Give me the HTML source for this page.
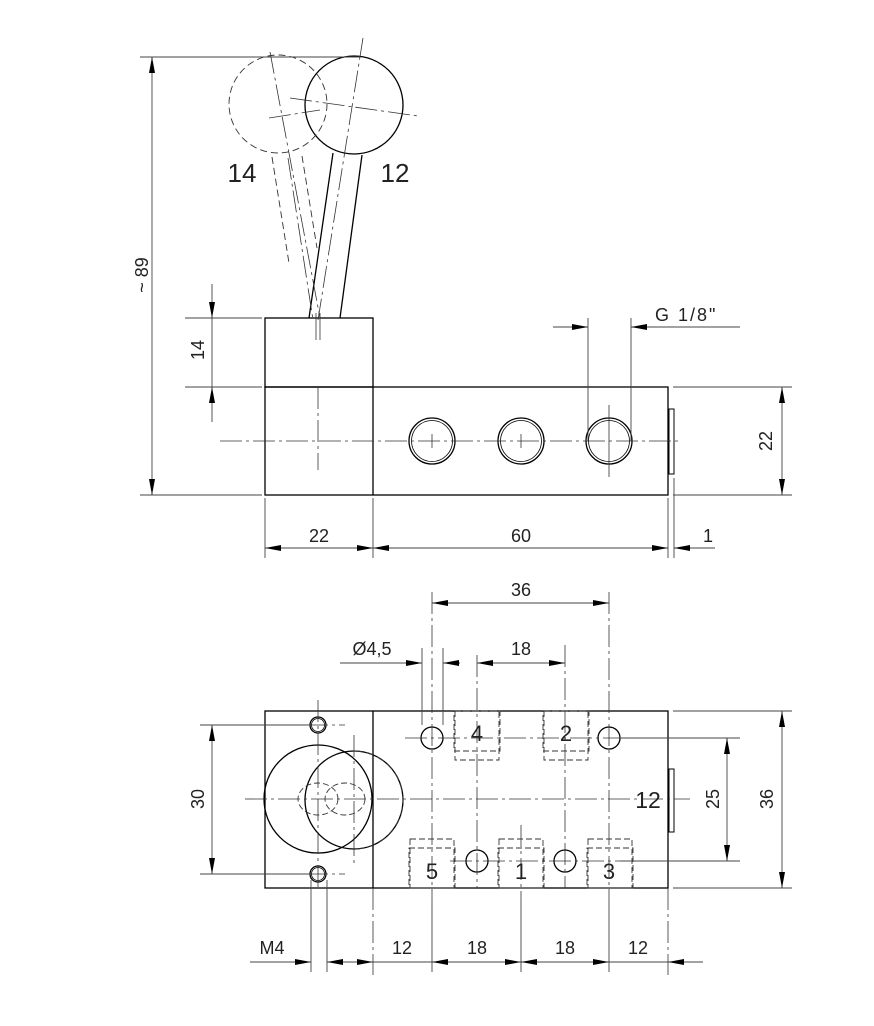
<!DOCTYPE html>
<html><head><meta charset="utf-8"><style>
html,body{margin:0;padding:0;background:#fff;}
svg{display:block;}
text{font-family:"Liberation Sans",sans-serif;fill:#222;}
</style></head><body>
<svg width="874" height="1026" viewBox="0 0 874 1026" xmlns="http://www.w3.org/2000/svg">
<defs>
<marker id="a" viewBox="0 0 16 6" refX="16" refY="3" markerWidth="16" markerHeight="6" markerUnits="userSpaceOnUse" orient="auto"><path d="M0,0 L16,3 L0,6z" fill="#000"/></marker>
<marker id="b" viewBox="0 0 16 6" refX="0" refY="3" markerWidth="16" markerHeight="6" markerUnits="userSpaceOnUse" orient="auto"><path d="M16,0 L0,3 L16,6z" fill="#000"/></marker>
</defs>
<g fill="none" stroke="#000" stroke-width="1.3">
<rect x="265" y="318" width="108" height="69"/>
<rect x="265" y="387" width="403" height="108"/>
<line x1="373" y1="387" x2="373" y2="495"/>
<rect x="669" y="409" width="5" height="65" stroke-width="1"/>
<circle cx="432" cy="441" r="23"/><circle cx="432" cy="441" r="20.5" stroke-width="0.8"/>
<circle cx="521" cy="441" r="23"/><circle cx="521" cy="441" r="20.5" stroke-width="0.8"/>
<circle cx="609" cy="441" r="23"/><circle cx="609" cy="441" r="20.5" stroke-width="0.8"/>
<circle cx="354" cy="105" r="49"/>
<line x1="333" y1="153" x2="309" y2="318"/>
<line x1="362" y1="155" x2="340" y2="318"/>
</g>
<g fill="none" stroke="#333" stroke-width="0.9" stroke-dasharray="7,4">
<circle cx="278" cy="104" r="49"/>
<line x1="272" y1="157" x2="289" y2="263"/>
<line x1="302" y1="156" x2="317" y2="248"/>
</g>
<g fill="none" stroke="#333" stroke-width="0.8" stroke-dasharray="22,4,3,4">
<line x1="220" y1="441" x2="680" y2="441"/>
<line x1="318" y1="387" x2="318" y2="470"/>
<line x1="269" y1="118" x2="320" y2="110"/>
<line x1="290" y1="98" x2="418" y2="116"/>
<line x1="270" y1="52" x2="320" y2="318"/>
<line x1="363" y1="38" x2="318" y2="320"/>
<line x1="288" y1="158" x2="313" y2="320"/>
</g>
<g stroke="#333" stroke-width="0.8">
<line x1="432" y1="434" x2="432" y2="448"/><line x1="521" y1="434" x2="521" y2="448"/><line x1="609" y1="405" x2="609" y2="477"/>
<line x1="316" y1="313" x2="316" y2="340"/><line x1="320" y1="313" x2="320" y2="340"/>
</g>
<g stroke="#444" stroke-width="0.9" fill="none">
<line x1="140" y1="57" x2="360" y2="57"/>
<line x1="140" y1="495" x2="262" y2="495"/>
<line x1="152" y1="57" x2="152" y2="495" marker-start="url(#b)" marker-end="url(#a)"/>
<line x1="185" y1="318" x2="262" y2="318"/>
<line x1="185" y1="387" x2="262" y2="387"/>
<line x1="212" y1="284" x2="212" y2="318" marker-end="url(#a)"/>
<line x1="212" y1="318" x2="212" y2="387"/>
<line x1="212" y1="422" x2="212" y2="387" marker-end="url(#a)"/>
<line x1="265" y1="498" x2="265" y2="558"/>
<line x1="373" y1="498" x2="373" y2="558"/>
<line x1="668" y1="498" x2="668" y2="558"/>
<line x1="674" y1="478" x2="674" y2="558"/>
<line x1="265" y1="548" x2="373" y2="548" marker-start="url(#b)" marker-end="url(#a)"/>
<line x1="373" y1="548" x2="668" y2="548" marker-start="url(#b)" marker-end="url(#a)"/>
<line x1="715" y1="548" x2="674" y2="548" marker-end="url(#a)"/>
<line x1="673" y1="387" x2="792" y2="387"/>
<line x1="673" y1="495" x2="792" y2="495"/>
<line x1="782" y1="387" x2="782" y2="495" marker-start="url(#b)" marker-end="url(#a)"/>
<line x1="588" y1="318" x2="588" y2="441"/>
<line x1="631" y1="318" x2="631" y2="441"/>
<line x1="553" y1="327" x2="588" y2="327" marker-end="url(#a)"/>
<line x1="740" y1="327" x2="631" y2="327" marker-end="url(#a)"/>
</g>
<g font-size="18" fill="#333">
<text x="143" y="275" transform="rotate(-90 143 275)" text-anchor="middle" dominant-baseline="middle">~ 89</text>
<text x="199" y="350" transform="rotate(-90 199 350)" text-anchor="middle" dominant-baseline="middle">14</text>
<text x="319" y="542" text-anchor="middle">22</text>
<text x="521" y="542" text-anchor="middle">60</text>
<text x="708" y="542" text-anchor="middle">1</text>
<text x="767" y="441" transform="rotate(-90 767 441)" text-anchor="middle" dominant-baseline="middle">22</text>
<text x="655" y="321" letter-spacing="2">G 1/8"</text>
</g>
<g font-size="26" fill="#111">
<text x="242" y="182" text-anchor="middle">14</text>
<text x="395" y="182" text-anchor="middle">12</text>
</g>
<g fill="none" stroke="#000" stroke-width="1.3">
<rect x="265" y="711" width="403" height="177"/>
<line x1="373" y1="711" x2="373" y2="888"/>
<rect x="669" y="769" width="5" height="63" stroke-width="1"/>
<circle cx="318" cy="799" r="54"/>
<circle cx="354" cy="800" r="49"/>
<circle cx="318" cy="725" r="8"/><circle cx="318" cy="725" r="6.5" stroke-width="0.8"/>
<circle cx="318" cy="874" r="8"/><circle cx="318" cy="874" r="6.5" stroke-width="0.8"/>
<circle cx="432" cy="738" r="11"/><circle cx="609" cy="738" r="11"/>
<circle cx="477" cy="861" r="11"/><circle cx="565" cy="861" r="11"/>
</g>
<g fill="none" stroke="#333" stroke-width="0.9" stroke-dasharray="6,3">
<path d="M354,751 A49,49 0 0 1 354,849" stroke-dasharray="8,4"/>
<ellipse cx="318" cy="799" rx="20" ry="16"/>
<ellipse cx="345" cy="799" rx="20" ry="16"/>
<rect x="454" y="711" width="46" height="40"/><rect x="455" y="711" width="44" height="49"/>
<rect x="543" y="711" width="46" height="40"/><rect x="544" y="711" width="44" height="49"/>
<rect x="409" y="848" width="46" height="40"/><rect x="410" y="839" width="44" height="49"/>
<rect x="498" y="848" width="46" height="40"/><rect x="499" y="839" width="44" height="49"/>
<rect x="587" y="848" width="46" height="40"/><rect x="588" y="839" width="44" height="49"/>
</g>
<g fill="none" stroke="#333" stroke-width="0.8" stroke-dasharray="22,4,3,4">
<line x1="245" y1="799" x2="690" y2="799"/>
<line x1="240" y1="725" x2="345" y2="725"/>
<line x1="240" y1="874" x2="345" y2="874"/>
<line x1="318" y1="700" x2="318" y2="890"/>
<line x1="354" y1="735" x2="354" y2="865"/>
<line x1="405" y1="738" x2="690" y2="738"/>
<line x1="450" y1="861" x2="690" y2="861"/>
<line x1="432" y1="592" x2="432" y2="900"/>
<line x1="609" y1="592" x2="609" y2="900"/>
<line x1="477" y1="655" x2="477" y2="888"/>
<line x1="565" y1="645" x2="565" y2="888"/>
<line x1="521" y1="825" x2="521" y2="900"/>
<line x1="373" y1="888" x2="373" y2="975"/>
<line x1="668" y1="888" x2="668" y2="975"/>
</g>
<g font-size="22" fill="#222" text-anchor="middle">
<text x="477" y="741">4</text><text x="566" y="741">2</text>
<text x="432" y="879">5</text><text x="521" y="879">1</text><text x="609" y="879">3</text>
<text x="648" y="808" font-size="23">12</text>
</g>
<g stroke="#444" stroke-width="0.9" fill="none">
<line x1="432" y1="603" x2="609" y2="603" marker-start="url(#b)" marker-end="url(#a)"/>
<line x1="422" y1="648" x2="422" y2="725"/>
<line x1="443" y1="648" x2="443" y2="725"/>
<line x1="340" y1="663" x2="422" y2="663" marker-end="url(#a)"/>
<line x1="460" y1="663" x2="443" y2="663" marker-end="url(#a)"/>
<line x1="477" y1="663" x2="565" y2="663" marker-start="url(#b)" marker-end="url(#a)"/>
<line x1="200" y1="725" x2="310" y2="725"/>
<line x1="200" y1="874" x2="310" y2="874"/>
<line x1="212" y1="725" x2="212" y2="874" marker-start="url(#b)" marker-end="url(#a)"/>
<line x1="620" y1="738" x2="740" y2="738"/>
<line x1="620" y1="861" x2="740" y2="861"/>
<line x1="727" y1="738" x2="727" y2="861" marker-start="url(#b)" marker-end="url(#a)"/>
<line x1="673" y1="711" x2="792" y2="711"/>
<line x1="673" y1="888" x2="792" y2="888"/>
<line x1="782" y1="711" x2="782" y2="888" marker-start="url(#b)" marker-end="url(#a)"/>
<line x1="311" y1="880" x2="311" y2="972"/>
<line x1="327" y1="880" x2="327" y2="972"/>
<line x1="432" y1="900" x2="432" y2="972"/>
<line x1="521" y1="900" x2="521" y2="972"/>
<line x1="609" y1="900" x2="609" y2="972"/>
<line x1="250" y1="962" x2="311" y2="962" marker-end="url(#a)"/>
<line x1="345" y1="962" x2="327" y2="962" marker-end="url(#a)"/>
<line x1="345" y1="962" x2="373" y2="962" marker-end="url(#a)"/>
<line x1="373" y1="962" x2="432" y2="962"/>
<line x1="432" y1="962" x2="521" y2="962" marker-start="url(#b)" marker-end="url(#a)"/>
<line x1="521" y1="962" x2="609" y2="962" marker-start="url(#b)" marker-end="url(#a)"/>
<line x1="609" y1="962" x2="668" y2="962"/>
<line x1="703" y1="962" x2="668" y2="962" marker-end="url(#a)"/>
</g>
<g font-size="18" fill="#333" text-anchor="middle">
<text x="521" y="596">36</text>
<text x="372" y="655">Ø4,5</text>
<text x="521" y="655">18</text>
<text x="199" y="799" transform="rotate(-90 199 799)" dominant-baseline="middle">30</text>
<text x="714" y="799" transform="rotate(-90 714 799)" dominant-baseline="middle">25</text>
<text x="768" y="799" transform="rotate(-90 768 799)" dominant-baseline="middle">36</text>
<text x="272" y="954">M4</text>
<text x="402" y="954">12</text>
<text x="477" y="954">18</text>
<text x="565" y="954">18</text>
<text x="638" y="954">12</text>
</g>
</svg>
</body></html>
